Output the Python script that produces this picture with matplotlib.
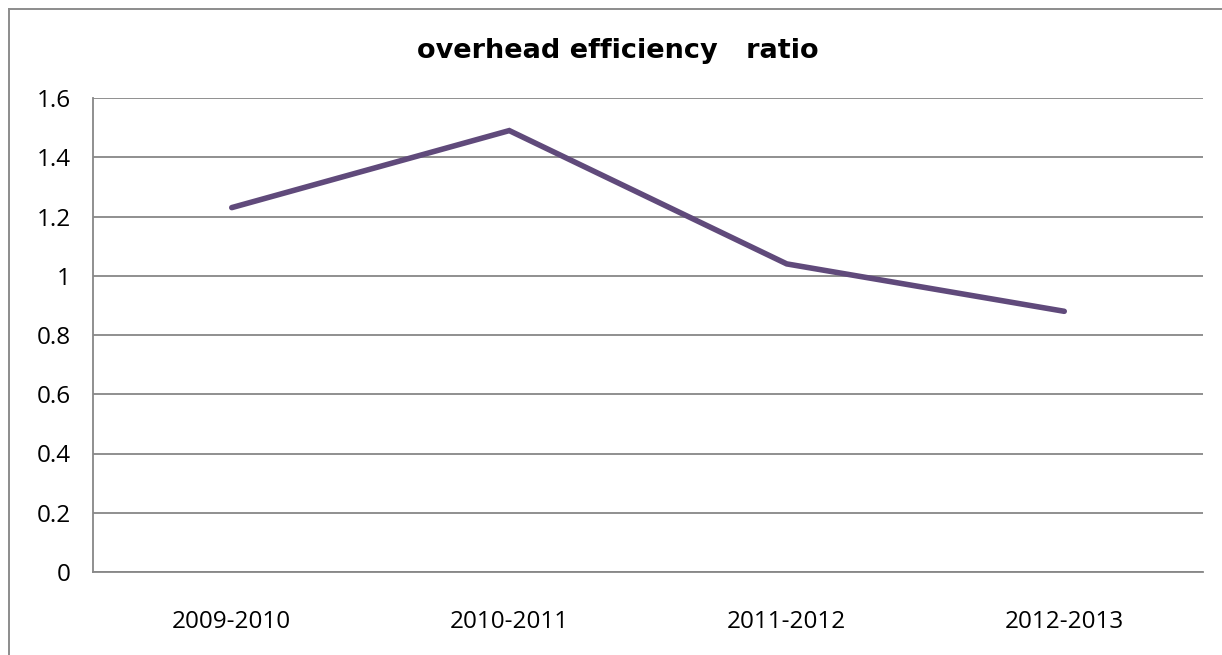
import matplotlib.pyplot as plt
from matplotlib.lines import Line2D
import numpy as np

# overhead efficiency ratio by fiscal year
years = ["2009-2010", "2010-2011", "2011-2012", "2012-2013"]
ratio = [1.23, 1.49, 1.04, 0.88]
y_ticks = [0, 0.2, 0.4, 0.6, 0.8, 1, 1.2, 1.4, 1.6]
y_labels = ["0", "0.2", "0.4", "0.6", "0.8", "1", "1.2", "1.4", "1.6"]

grid_col = "#878787"
line_col = "#604A7B"

fig = plt.figure(figsize=(12.22, 6.55), dpi=100)
ax = fig.add_axes([93 / 1222, 1 - 572 / 655, 1110 / 1222, 474 / 655])

x = np.arange(len(years))
ax.plot(x, ratio, color=line_col, linewidth=4.0, solid_capstyle="round",
        solid_joinstyle="miter", zorder=3)

ax.set_xlim(-0.5, len(years) - 0.5)
ax.set_ylim(0, 1.6)
ax.set_yticks(y_ticks)
ax.set_yticklabels(y_labels)
ax.set_xticks(x)
ax.set_xticklabels(years)

ax.grid(axis="y", color=grid_col, linewidth=1.3)
ax.set_axisbelow(True)
for side in ("top", "right"):
    ax.spines[side].set_visible(False)
for side in ("left", "bottom"):
    ax.spines[side].set_color(grid_col)
    ax.spines[side].set_linewidth(1.3)

ax.tick_params(axis="both", length=0, labelsize=17.5, labelcolor="#000000")
ax.tick_params(axis="y", pad=16)
ax.tick_params(axis="x", pad=27)
for lab in ax.get_xticklabels() + ax.get_yticklabels():
    lab.set_fontfamily("Open Sans")

fig.text(618 / 1222, 1 - 58 / 655, "overhead efficiency   ratio",
         ha="center", va="baseline", fontsize=19.5, fontweight="bold",
         fontfamily="DejaVu Sans")

# chart area border (top and left edges)
bx, by = 8.5 / 1222, 1 - 8.5 / 655
fig.add_artist(Line2D([bx, 1.0], [by, by], transform=fig.transFigure,
                      color="#8c8c8c", linewidth=1.4))
fig.add_artist(Line2D([bx, bx], [by, 0.0], transform=fig.transFigure,
                      color="#8c8c8c", linewidth=1.4))

fig.savefig("out.png", dpi=100)
